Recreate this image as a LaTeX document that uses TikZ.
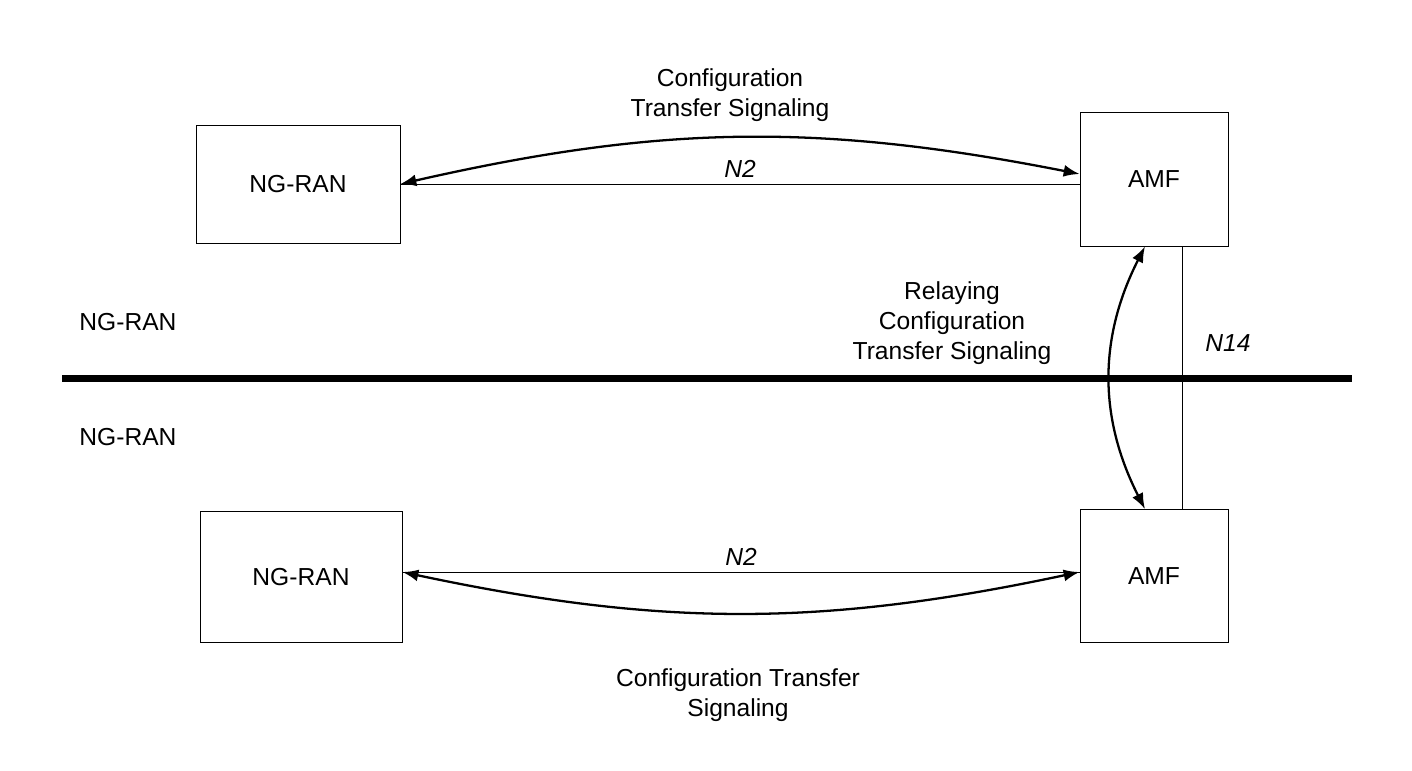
\documentclass[tikz,border=0pt]{standalone}
\usepackage{fontspec}
\setmainfont{Liberation Sans}
\usetikzlibrary{arrows.meta}
\begin{document}
\begin{tikzpicture}[
  box/.style={draw, minimum width=#1, inner sep=0pt},
  sig/.style={{Latex[length=3.2mm,width=2.4mm]}-{Latex[length=3.2mm,width=2.4mm]}, line width=1.3pt},
  lbl/.style={align=center, font=\fontsize{14}{17}\selectfont}]
  \useasboundingbox (0,0) rectangle (28.24,-15.4);
  % network functions
  \node[box=4.08cm, minimum height=2.36cm, lbl] (ran1) at (5.96,-3.68) {NG-RAN};
  \node[box=2.96cm, minimum height=2.68cm, lbl] (amf1) at (23.08,-3.58) {AMF};
  \node[box=4.04cm, minimum height=2.62cm, lbl] (ran2) at (6.02,-11.54) {NG-RAN};
  \node[box=2.96cm, minimum height=2.66cm, lbl] (amf2) at (23.08,-11.52) {AMF};
  % boundary
  \coordinate (bl) at (1.24,-7.56);
  \coordinate (br) at (27.04,-7.56);
  \draw[line width=4pt] (bl) -- (br);
  \node[lbl] (dom1) at (2.56,-6.44) {NG-RAN};
  \node[lbl] (dom2) at (2.56,-8.74) {NG-RAN};
  % interfaces
  \draw (ran1.east) -- (ran1.east -| amf1.west) node[lbl, midway, above, font=\fontsize{14}{17}\itshape] {N2};
  \draw (ran2.east |- 0,-11.44) -- (amf2.west |- 0,-11.44) node[lbl, midway, above, font=\fontsize{14}{17}\itshape] {N2};
  \draw ([xshift=0.56cm]amf1.south) -- ([xshift=0.56cm]amf2.north);
  \node[lbl, font=\fontsize{14}{17}\itshape] (n14) at (24.56,-6.86) {N14};
  % signalling
  \draw[sig] (ran1.east) to[bend left=12] ([yshift=0.1cm]amf1.west);
  \draw[sig] (ran2.east |- 0,-11.44) to[bend right=12] (amf2.west |- 0,-11.44);
  \draw[sig] ([xshift=-0.18cm]amf1.south) to[bend right=27] ([xshift=-0.18cm]amf2.north);
  \node[lbl] (t1) at (14.6,-1.9) {Configuration\\Transfer Signaling};
  \node[lbl] (t2) at (19.04,-6.46) {Relaying\\Configuration\\Transfer Signaling};
  \node[lbl] (t3) at (14.76,-13.9) {Configuration Transfer\\Signaling};
\end{tikzpicture}
\end{document}
